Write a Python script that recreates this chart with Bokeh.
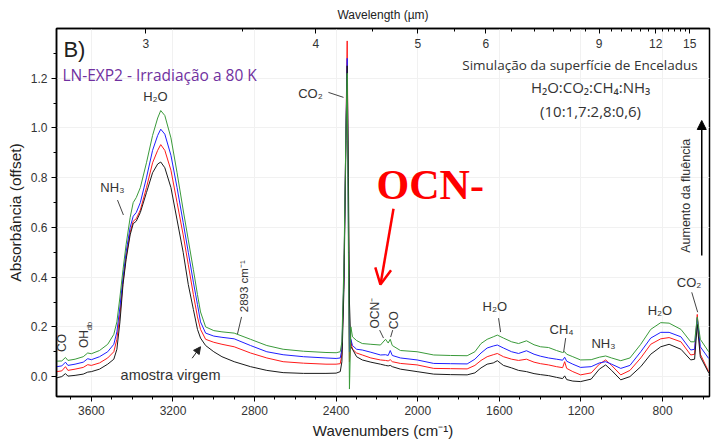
from math import pi

from bokeh.embed import file_html
from bokeh.models import (Arrow, ColumnDataSource, FixedTicker, Label, LinearAxis,
                          NormalHead, NumeralTickFormatter, OpenHead, Range1d,
                          SingleIntervalTicker)
from bokeh.plotting import figure
from bokeh.resources import INLINE

# ---- spectra: wavenumber grid (cm^-1) and absorbance (offset) per fluence step ----
wavenumber = [
    3770, 3745, 3727, 3715, 3680, 3640, 3618, 3600, 3560, 3520,
    3490, 3475, 3460, 3445, 3430, 3410, 3395, 3380, 3360, 3330,
    3300, 3275, 3260, 3240, 3210, 3180, 3150, 3125, 3100, 3080,
    3065, 3040, 3000, 2960, 2900, 2820, 2740, 2660, 2560, 2450,
    2400, 2380, 2372, 2362, 2352, 2346, 2340, 2335, 2328, 2320,
    2300, 2272, 2230, 2183, 2158, 2145, 2135, 2125, 2085, 2003,
    1922, 1840, 1758, 1720, 1690, 1660, 1630, 1610, 1580, 1540,
    1506, 1467, 1430, 1398, 1359, 1320, 1290, 1280, 1270, 1240,
    1202, 1150, 1110, 1079, 1050, 1005, 960, 907, 858, 809,
    768, 710, 662, 643, 630, 615, 574,
]

virgin = [
    -0.005, 0.0, 0.012, 0.002, 0.005, 0.01, 0.018, 0.02, 0.03, 0.05,
    0.07, 0.11, 0.22, 0.37, 0.47, 0.57, 0.615, 0.625, 0.66, 0.74,
    0.82, 0.855, 0.863, 0.84, 0.76, 0.63, 0.50, 0.37, 0.27, 0.19,
    0.155, 0.125, 0.10, 0.08, 0.06, 0.04, 0.025, 0.016, 0.013, 0.013,
    0.014, 0.02, 0.06, 0.35, 0.95, 1.25, 0.8, 0.3, 0.12, 0.11,
    0.08, 0.067, 0.058, 0.05, 0.045, 0.043, 0.045, 0.04, 0.03, 0.02,
    0.01, 0.008, 0.007, 0.015, 0.035, 0.05, 0.055, 0.064, 0.045, 0.035,
    0.025, 0.02, 0.012, 0.008, 0.004, -0.003, -0.008, 0.003, -0.012, -0.018,
    -0.02, -0.01, 0.03, 0.047, 0.025, -0.013, 0.0, 0.04, 0.09, 0.12,
    0.13, 0.11, 0.067, 0.07, 0.21, 0.08, 0.015,
]

step_red = [
    0.02, 0.023, 0.04, 0.025, 0.03, 0.037, 0.048, 0.045, 0.055, 0.075,
    0.10, 0.15, 0.25, 0.38, 0.48, 0.58, 0.625, 0.635, 0.67, 0.76,
    0.86, 0.91, 0.933, 0.91, 0.83, 0.70, 0.57, 0.45, 0.33, 0.24,
    0.19, 0.15, 0.138, 0.13, 0.12, 0.095, 0.075, 0.06, 0.054, 0.05,
    0.05, 0.052, 0.09, 0.4, 1.0, 1.35, 0.7, 0.06, 0.14, 0.11,
    0.095, 0.087, 0.075, 0.067, 0.065, 0.063, 0.068, 0.06, 0.053, 0.047,
    0.033, 0.032, 0.031, 0.045, 0.065, 0.08, 0.088, 0.093, 0.08, 0.07,
    0.065, 0.07, 0.058, 0.052, 0.047, 0.04, 0.036, 0.06, 0.033, 0.02,
    0.007, 0.015, 0.05, 0.067, 0.045, 0.007, 0.025, 0.075, 0.13, 0.152,
    0.157, 0.14, 0.087, 0.09, 0.25, 0.09, 0.02,
]

step_blue = [
    0.04, 0.043, 0.058, 0.045, 0.05, 0.058, 0.072, 0.068, 0.08, 0.10,
    0.13, 0.18, 0.28, 0.40, 0.50, 0.60, 0.645, 0.66, 0.70, 0.80,
    0.91, 0.97, 0.995, 0.975, 0.89, 0.76, 0.62, 0.50, 0.38, 0.29,
    0.22, 0.175, 0.163, 0.158, 0.152, 0.125, 0.10, 0.088, 0.08, 0.075,
    0.073, 0.075, 0.11, 0.4, 1.0, 1.28, 0.6, 0.1, 0.15, 0.125,
    0.11, 0.107, 0.098, 0.087, 0.088, 0.085, 0.105, 0.085, 0.075, 0.067,
    0.053, 0.052, 0.051, 0.07, 0.095, 0.115, 0.123, 0.127, 0.115, 0.10,
    0.093, 0.104, 0.09, 0.082, 0.075, 0.07, 0.066, 0.078, 0.062, 0.05,
    0.037, 0.04, 0.055, 0.06, 0.05, 0.033, 0.045, 0.10, 0.155, 0.178,
    0.178, 0.16, 0.107, 0.11, 0.235, 0.12, 0.073,
]

step_green = [
    0.062, 0.063, 0.077, 0.065, 0.07, 0.08, 0.095, 0.092, 0.105, 0.13,
    0.17, 0.22, 0.32, 0.43, 0.53, 0.64, 0.70, 0.72, 0.76, 0.86,
    0.97, 1.04, 1.07, 1.05, 0.96, 0.82, 0.67, 0.55, 0.43, 0.33,
    0.26, 0.20, 0.185, 0.18, 0.175, 0.15, 0.125, 0.11, 0.102, 0.097,
    0.096, 0.10, 0.14, 0.45, 1.0, 1.22, 0.5, -0.05, 0.2, 0.16,
    0.145, 0.133, 0.13, 0.127, 0.15, 0.135, 0.15, 0.125, 0.105, 0.10,
    0.087, 0.085, 0.084, 0.10, 0.133, 0.15, 0.16, 0.167, 0.155, 0.14,
    0.133, 0.144, 0.128, 0.12, 0.117, 0.105, 0.097, 0.10, 0.09, 0.08,
    0.067, 0.068, 0.078, 0.083, 0.075, 0.064, 0.075, 0.13, 0.19, 0.217,
    0.215, 0.19, 0.14, 0.14, 0.24, 0.15, 0.10,
]

# wavelength scale (um) on the top axis
wavelength_major = [3, 4, 5, 6, 9, 12, 15]
wavelength_minor = [3.5, 4.5, 5.5, 6.5, 7, 7.5, 8, 8.5, 9.5, 10, 10.5, 11, 11.5,
                    12.5, 13, 13.5, 14, 14.5]

TEXT = "#333333"

src = ColumnDataSource(dict(wn=wavenumber, black=virgin, red=step_red,
                            blue=step_blue, green=step_green))

p = figure(width=716, height=444, output_backend="svg", toolbar_location=None,
           x_range=Range1d(3771, 570), y_range=Range1d(-0.08, 1.4),
           min_border_left=56, min_border_right=7, min_border_top=28,
           min_border_bottom=48)
p.background_fill_color = "white"
p.border_fill_color = "white"
p.outline_line_color = "black"
p.outline_line_width = 1.5

# bottom axis: wavenumbers
xa = p.below[0]
xa.ticker = SingleIntervalTicker(interval=400, num_minor_ticks=4)
xa.axis_label = "Wavenumbers (cm⁻¹)"
xa.axis_label_text_font = "Liberation Sans"
xa.axis_label_text_font_style = "normal"
xa.axis_label_text_font_size = "15px"
xa.axis_label_text_color = "#222222"
xa.axis_label_standoff = 4
xa.major_label_text_font = "Liberation Sans"
xa.major_label_text_font_size = "12px"
xa.major_label_text_color = TEXT
xa.major_label_standoff = 4
xa.axis_line_width = 1.5
xa.major_tick_in = 0
xa.major_tick_out = 5
xa.minor_tick_in = 0
xa.minor_tick_out = 3

# left axis: absorbance
ya = p.left[0]
ya.ticker = SingleIntervalTicker(interval=0.2, num_minor_ticks=2)
ya.formatter = NumeralTickFormatter(format="0.0")
ya.axis_label = "Absorbância (offset)"
ya.axis_label_text_font = "Liberation Sans"
ya.axis_label_text_font_style = "normal"
ya.axis_label_text_font_size = "15.5px"
ya.axis_label_text_color = "#222222"
ya.axis_label_standoff = 4
ya.major_label_text_font = "Liberation Sans"
ya.major_label_text_font_size = "12px"
ya.major_label_text_color = TEXT
ya.major_label_standoff = 4
ya.axis_line_width = 1.5
ya.major_tick_in = 0
ya.major_tick_out = 5
ya.minor_tick_in = 0
ya.minor_tick_out = 3

p.xgrid.grid_line_color = "#f1f1f1"
p.ygrid.grid_line_color = "#f1f1f1"

# top axis: wavelength, ticks and labels pointing into the frame
top = LinearAxis(ticker=FixedTicker(ticks=[1e4 / w for w in wavelength_major],
                                    minor_ticks=[1e4 / w for w in wavelength_minor]),
                 axis_label="Wavelength (µm)")
top.major_label_overrides = {1e4 / w: str(w) for w in wavelength_major}
top.axis_label_text_font = "Liberation Sans"
top.axis_label_text_font_style = "normal"
top.axis_label_text_font_size = "12px"
top.axis_label_text_color = "#222222"
top.axis_label_standoff = 14
top.major_label_text_font = "Liberation Sans"
top.major_label_text_font_size = "12px"
top.major_label_text_color = TEXT
top.major_label_standoff = -19
top.axis_line_width = 1.5
top.major_tick_in = 5
top.major_tick_out = 0
top.minor_tick_in = 3
top.minor_tick_out = 0
p.add_layout(top, "above")

# spectra
for col, color in [("red", "#ff1a1a"), ("blue", "#1f1fff"),
                   ("black", "#1a1a1a"), ("green", "#3a9a3a")]:
    p.line("wn", col, source=src, line_color=color, line_width=1)


def label(x, y, text, size="13px", angle=0.0, align="center", baseline="middle",
          color=TEXT, font="Liberation Sans", style="normal"):
    p.add_layout(Label(x=x, y=y, text=text, angle=angle, angle_units="rad",
                       text_align=align, text_baseline=baseline,
                       text_font_size=size, text_color=color,
                       text_font=font, text_font_style=style))


def leader(x0, y0, x1, y1):
    p.segment(x0=[x0], y0=[y0], x1=[x1], y1=[y1], line_color="#444444",
              line_width=1)


# panel titles
label(3737, 1.317, "B)", size="22px", align="left", color="#222222")
label(3742, 1.215, "LN-EXP2 - Irradiação a 80 K", size="15.5px", align="left",
      color="#7030a0", font="Open Sans")
label(628, 1.255, "Simulação da superfície de Enceladus", size="13.5px",
      align="right", font="Open Sans")
label(1153, 1.163, "H₂O:CO₂:CH₄:NH₃", size="15px", font="Open Sans")
label(1153, 1.067, "(10:1,7:2,8:0,6)", size="15px", font="Open Sans")

# band assignments
label(3286, 1.127, "H₂O")
label(3497, 0.759, "NH₃")
leader(3472, 0.71, 3443, 0.65)
label(2526, 1.139, "CO₂")
leader(2438, 1.143, 2364, 1.123)
label(2850, 0.259, "2893 cm⁻¹", size="11.5px", angle=pi / 2, align="left")
leader(2864, 0.24, 2884, 0.171)
label(3212, 0.008, "amostra virgem", size="14.5px")
p.add_layout(Arrow(end=NormalHead(size=7, fill_color="#222222", line_color="#222222"),
                   x_start=3106, y_start=0.074, x_end=3065, y_end=0.12,
                   line_color="#222222", line_width=1))
label(3742, 0.135, "CO", size="12px", angle=pi / 2)
label(3634, 0.151, "OH", size="12px", angle=pi / 2)
label(3610, 0.203, "db", size="8px", angle=pi / 2)
label(2212, 0.255, "OCN⁻", size="12px", angle=pi / 2)
leader(2187, 0.187, 2168, 0.155)
label(2118, 0.227, "CO", size="12px", angle=pi / 2)
leader(2123, 0.187, 2133, 0.159)
label(1622, 0.283, "H₂O")
leader(1604, 0.235, 1594, 0.179)
label(1295, 0.19, "CH₄")
leader(1275, 0.155, 1285, 0.099)
label(1090, 0.134, "NH₃")
label(813, 0.267, "H₂O")
label(670, 0.38, "CO₂")
leader(657, 0.339, 628, 0.259)

# cyanate highlight
label(2202, 0.77, "OCN-", size="42px", align="left", color="#ff0000",
      font="Liberation Serif", style="bold")
p.add_layout(Arrow(end=OpenHead(size=16, line_color="#ff0000", line_width=2.5),
                   x_start=2119, y_start=0.675, x_end=2183, y_end=0.37,
                   line_color="#ff0000", line_width=2.5))

# fluence arrow
label(684, 0.727, "Aumento da fluência", size="12.5px", angle=pi / 2)
p.add_layout(Arrow(end=NormalHead(size=9, fill_color="black", line_color="black"),
                   x_start=608, y_start=0.487, x_end=608, y_end=1.03,
                   line_color="black", line_width=1.5))

open("out.html", "w").write(file_html(p, INLINE))
